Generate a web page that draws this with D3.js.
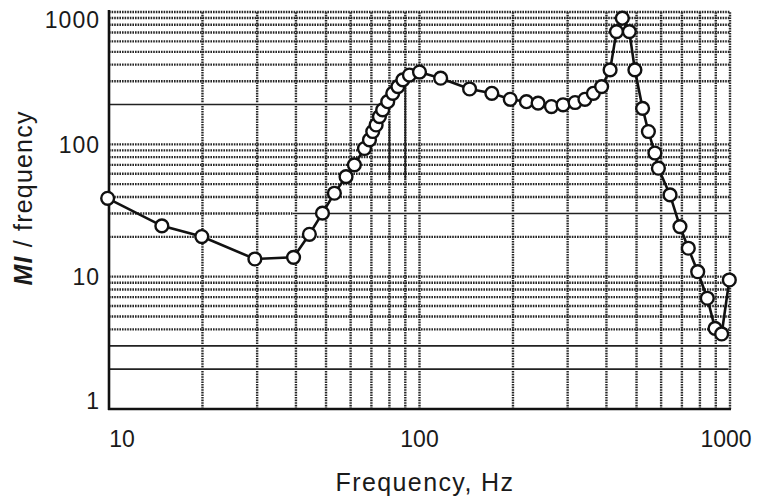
<!DOCTYPE html>
<html>
<head>
<meta charset="utf-8">
<script src="https://cdn.jsdelivr.net/npm/d3@7"></script>
<style>
  html, body { margin: 0; padding: 0; background: #fff; }
  svg { display: block; }
  text { font-family: "Liberation Sans", Arial, Helvetica, sans-serif; fill: #1a1a1a; }
</style>
</head>
<body>
<svg id="chart" width="758" height="500"></svg>
<script>
// Measured response: MI / frequency against frequency (Hz)
const frequency = [9.9, 14.8, 19.9, 29.5, 39.3, 44.2, 48.7, 53.2, 58, 61.7,
  66.5, 69, 70.7, 72.5, 74.3, 76.1, 79, 82, 85.2, 88.4,
  92.8, 100, 117, 145, 171, 196, 221, 241, 266, 290,
  317, 341, 363, 386, 411, 431, 450, 474, 494, 523,
  546, 573, 588, 641, 690, 734, 787, 845, 895, 940, 995];
const miPerFrequency = [39.1, 24.2, 20.1, 13.6, 14.0, 20.9, 30.2, 42.7, 57, 70,
  93, 108, 125, 140, 162, 182, 210, 243, 273, 307,
  334, 352, 316, 262, 243, 219, 210, 205, 193, 199,
  207, 219, 243, 273, 365, 711, 898, 711, 365, 187,
  125, 86, 66, 41.5, 23.9, 16.4, 10.9, 6.87, 4.07, 3.69, 9.44];

const xTickValues = [10, 100, 1000];
const yTickValues = [1, 10, 100, 1000];
const xTickLabels = ["10", "100", "1000"];
const yTickLabels = ["1", "10", "100", "1000"];

// Grid lines of the printed log paper
const xGridValues = [20, 30, 40, 50, 60, 70, 80, 90, 100, 200, 300, 400, 500, 600, 700, 800, 900, 1000];
const yGridValues = [4, 5, 6, 7, 8, 9, 10, 20, 30, 40, 50, 60, 70, 80, 90, 100, 300, 400, 500, 600, 700, 800, 900, 1000];
// Ruled (solid) lines: value and extent along the other axis
const yRuled = [[2, 10, 990], [3, 10, 990], [30, 39, 1000], [200, 10, 80]];
const xRuled = [[80, 55, 150], [90, 55, 300]];

const svg = d3.select("#chart");
const x = d3.scaleLog().domain([10, 1000]).range([109, 730]);
const y = d3.scaleLog().domain([1, 1000]).range([409, 12]);

const grid = svg.append("g");
const dotted = { stroke: "#262626", width: 2.4, dash: "1.6,1" };

// dotted horizontal and vertical rules
grid.selectAll("line.h").data(yGridValues).join("line")
  .attr("x1", x(10)).attr("x2", x(1000))
  .attr("y1", d => y(d)).attr("y2", d => y(d))
  .attr("stroke", dotted.stroke).attr("stroke-width", dotted.width)
  .attr("stroke-dasharray", dotted.dash);
grid.selectAll("line.v").data(xGridValues).join("line")
  .attr("y1", y(1)).attr("y2", y(1000))
  .attr("x1", d => x(d)).attr("x2", d => x(d))
  .attr("stroke", dotted.stroke).attr("stroke-width", dotted.width)
  .attr("stroke-dasharray", dotted.dash);

// solid ruled segments
const ruled = svg.append("g");
yRuled.forEach(([v, a, b]) => {
  ruled.append("line").attr("x1", x(a)).attr("x2", x(b)).attr("y1", y(v)).attr("y2", y(v))
    .attr("stroke", "#fff").attr("stroke-width", 3);
  ruled.append("line").attr("x1", x(a)).attr("x2", x(b)).attr("y1", y(v)).attr("y2", y(v))
    .attr("stroke", "#222").attr("stroke-width", 1.6);
});
xRuled.forEach(([f, a, b]) => {
  ruled.append("line").attr("x1", x(f)).attr("x2", x(f)).attr("y1", y(a)).attr("y2", y(b))
    .attr("stroke", "#222").attr("stroke-width", 1.8);
});

// left and bottom frame
svg.append("line").attr("x1", x(10)).attr("x2", x(10)).attr("y1", y(1000) - 2).attr("y2", y(1) + 1)
  .attr("stroke", "#111").attr("stroke-width", 2.6);
svg.append("line").attr("x1", x(10) - 1).attr("x2", x(1000) + 1).attr("y1", y(1)).attr("y2", y(1))
  .attr("stroke", "#111").attr("stroke-width", 2.6);

// data curve
const pts = frequency.map((f, i) => [f, miPerFrequency[i]]);
const line = d3.line().x(d => x(d[0])).y(d => y(d[1]));
svg.append("path").datum(pts).attr("d", line)
  .attr("fill", "none").attr("stroke", "#111").attr("stroke-width", 2.6);
svg.append("g").selectAll("circle").data(pts).join("circle")
  .attr("cx", d => x(d[0])).attr("cy", d => y(d[1])).attr("r", 6.4)
  .attr("fill", "#fff").attr("stroke", "#111").attr("stroke-width", 2.4);

// tick labels
const fs = 23;
svg.append("g").selectAll("text").data(yTickValues).join("text")
  .attr("x", 100).attr("text-anchor", "end")
  .attr("y", d => Math.max(20, Math.min(401, y(d))) + fs * 0.36)
  .attr("font-size", fs).attr("letter-spacing", 1)
  .text((d, i) => yTickLabels[i]);
svg.append("g").selectAll("text").data(xTickValues).join("text")
  .attr("x", d => Math.max(122, Math.min(726, x(d))))
  .attr("y", 447).attr("text-anchor", "middle")
  .attr("font-size", fs)
  .text((d, i) => xTickLabels[i]);

// axis titles
svg.append("text").attr("x", 425).attr("y", 491).attr("text-anchor", "middle")
  .attr("font-size", 25).attr("letter-spacing", 1.4).text("Frequency, Hz");
const yt = svg.append("text").attr("transform", "translate(32,198) rotate(-90)")
  .attr("text-anchor", "middle").attr("font-size", 25).attr("letter-spacing", 1.2);
yt.append("tspan").attr("font-weight", "bold").attr("font-style", "italic").text("MI");
yt.append("tspan").text(" / frequency");
</script>
</body>
</html>
